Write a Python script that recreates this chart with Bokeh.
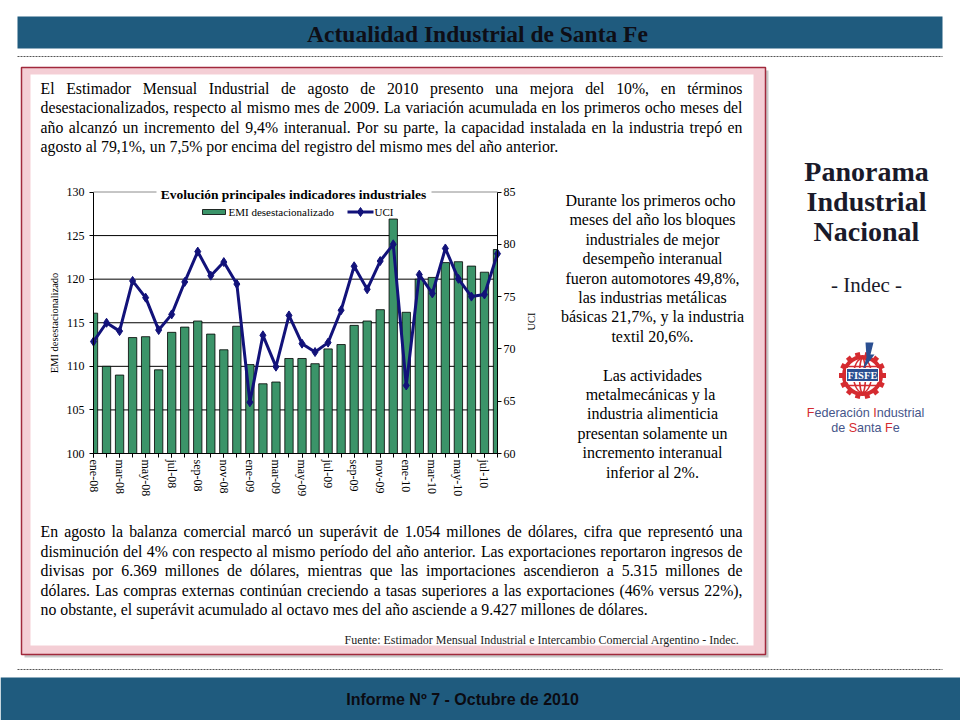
import numpy as np
from bokeh.plotting import figure
from bokeh.models import Range1d, LinearAxis, FixedTicker
from bokeh.core.properties import value
from bokeh.embed import file_html
from bokeh.resources import INLINE

# ---------------- data ----------------
months = ["ene-08", "feb-08", "mar-08", "abr-08", "may-08", "jun-08", "jul-08", "ago-08",
          "sep-08", "oct-08", "nov-08", "dic-08", "ene-09", "feb-09", "mar-09", "abr-09",
          "may-09", "jun-09", "jul-09", "ago-09", "sep-09", "oct-09", "nov-09", "dic-09",
          "ene-10", "feb-10", "mar-10", "abr-10", "may-10", "jun-10", "jul-10", "ago-10"]
emi = [116.1, 110.0, 109.0, 113.3, 113.4, 109.6, 113.9, 114.5, 115.2, 113.7, 111.9, 114.6,
       110.2, 108.0, 108.2, 110.9, 110.9, 110.3, 112.0, 112.5, 114.7, 115.2, 116.5, 126.9,
       116.2, 120.0, 120.2, 121.9, 122.0, 121.5, 120.8, 123.4]
uci = [70.7, 72.5, 71.7, 76.5, 74.9, 71.8, 73.3, 76.4, 79.3, 77.0, 78.3, 76.2,
       64.9, 71.3, 68.3, 73.2, 70.5, 69.7, 70.6, 73.7, 77.9, 75.7, 78.4, 80.0,
       66.5, 77.1, 75.3, 79.6, 76.7, 75.0, 75.2, 79.1]
emi_ticks = [100, 105, 110, 115, 120, 125, 130]
uci_ticks = [60, 65, 70, 75, 80, 85]
chart_title = "Evolución principales indicadores industriales"
emi_name = "EMI desestacionalizado"
uci_name = "UCI"

header_text = "Actualidad Industrial de Santa Fe"
footer_text = "Informe Nº 7 - Octubre de 2010"
side_title = ["Panorama", "Industrial", "Nacional"]
side_sub = "- Indec -"
para1 = ["El Estimador Mensual Industrial de agosto de 2010 presento una mejora del 10%, en términos",
         "desestacionalizados, respecto al mismo mes de 2009. La variación acumulada en los primeros ocho meses del",
         "año alcanzó un incremento del 9,4% interanual. Por su parte, la capacidad instalada en la industria trepó en",
         "agosto al 79,1%, un 7,5% por encima del registro del mismo mes del año anterior."]
para2 = ["En agosto la balanza comercial marcó un superávit de 1.054 millones de dólares, cifra que representó una",
         "disminución del 4% con respecto al mismo período del año anterior. Las exportaciones reportaron ingresos de",
         "divisas por 6.369 millones de dólares, mientras que las importaciones ascendieron a 5.315 millones de",
         "dólares. Las compras externas continúan creciendo a tasas superiores a las exportaciones (46% versus 22%),",
         "no obstante, el superávit acumulado al octavo mes del año asciende a 9.427 millones de dólares."]
source_text = "Fuente: Estimador Mensual Industrial  e Intercambio Comercial Argentino - Indec."
side_lines = ["Durante los primeros  ocho", "meses del año los bloques", "industriales de mejor",
              "desempeño interanual", "fueron automotores 49,8%,", "las industrias metálicas",
              "básicas 21,7%, y la industria", "textil 20,6%.", "",
              "Las actividades", "metalmecánicas  y la", "industria alimenticia",
              "presentan solamente un", "incremento interanual", "inferior al 2%."]

# ---------------- styles ----------------
WF, HF = 960, 720          # canvas size
OFF = 8                    # layout coordinates below are canvas px minus 8
SERIF = "Liberation Serif"
SANS = "Liberation Sans"
HEADER = "#1F5B7E"
GREEN = "#3B9469"
NAVY = "#12127A"
PINK = "#F4CED5"
RED_BORDER = "#A1293C"
LOGO_RED = "#D52B30"
LOGO_BLUE = "#2B4F91"
LOGO_TXT = "#46558A"

# Times / Arial advance widths (1/1000 em) for justification
TIMES_W = {' ': 250, '%': 833, '(': 333, ')': 333, ',': 250, '-': 333, '.': 250, ':': 278,
           'a': 444, 'b': 500, 'c': 444, 'd': 500, 'e': 444, 'f': 333, 'g': 500, 'h': 500, 'i': 278,
           'j': 278, 'k': 500, 'l': 278, 'm': 778, 'n': 500, 'o': 500, 'p': 500, 'q': 500, 'r': 333,
           's': 389, 't': 278, 'u': 500, 'v': 500, 'w': 722, 'x': 500, 'y': 500, 'z': 444,
           'A': 722, 'B': 667, 'C': 667, 'D': 722, 'E': 611, 'F': 556, 'G': 722, 'H': 722, 'I': 333,
           'J': 389, 'K': 722, 'L': 611, 'M': 889, 'N': 722, 'O': 722, 'P': 556, 'Q': 722, 'R': 667,
           'S': 556, 'T': 611, 'U': 722, 'V': 722, 'W': 944, 'X': 722, 'Y': 722, 'Z': 611,
           'á': 444, 'é': 444, 'í': 278, 'ó': 500, 'ú': 500, 'ñ': 500}
ARIAL_W = {' ': 278, 'F': 611, 'I': 278, 'S': 667, 'a': 556, 'c': 500, 'd': 556, 'e': 556, 'i': 222,
           'l': 222, 'n': 556, 'ó': 556, 'r': 333, 's': 500, 't': 278, 'u': 556}


def tw(s, size, table=TIMES_W):
    return sum(table.get(c, 500) for c in s) * size / 1000.0


p = figure(width=WF, height=HF, x_range=Range1d(-OFF, WF - OFF), y_range=Range1d(HF - OFF, -OFF),
           x_axis_type=None, y_axis_type=None, title=None, toolbar_location=None,
           output_backend="svg", min_border=0, outline_line_color=None,
           background_fill_color="white", border_fill_color="white")


def txt(x, y, s, size, font=SERIF, style="normal", color="black", align="left", baseline="middle", angle=0.0):
    p.text(x=[x], y=[y], text=[s], text_font=value(font), text_font_size=value(f"{size}px"),
           text_font_style=style, text_color=color, text_align=align, text_baseline=baseline, angle=angle)


# ---------------- slide decorations ----------------
p.quad(left=[9], right=[934], top=[8], bottom=[40], fill_color=HEADER, line_color=None)
txt(469, 25, header_text, 23.5, style="bold", color="#0E0E16", align="center")
p.segment(x0=[9, 9], x1=[934, 934], y0=[48, 661], y1=[48, 661], line_color="#555555",
          line_width=1, line_dash="2 1")
p.quad(left=[-OFF], right=[WF - OFF], top=[669], bottom=[HF - OFF], fill_color=HEADER, line_color=None)
txt(454, 691, footer_text, 16, font=SANS, style="bold", color="#0B0B12", align="center")

# pink frame
p.quad(left=[16], right=[760], top=[62], bottom=[649], fill_color="#888888", fill_alpha=0.45, line_color=None)
p.quad(left=[13], right=[757], top=[59], bottom=[646], fill_color=PINK, line_color=RED_BORDER, line_width=1.5)
p.quad(left=[22], right=[745], top=[66], bottom=[637], fill_color="white", line_color=None)


def draw_justified(lines, x0, x1, y0, dy, size):
    L = dict(x=[], y=[], t=[])
    R = dict(x=[], y=[], t=[])
    for k, line in enumerate(lines):
        y = y0 + k * dy
        if k == len(lines) - 1:
            L["x"].append(x0); L["y"].append(y); L["t"].append(line)
            continue
        words = line.split()
        widths = [tw(w, size) for w in words]
        gap = (x1 - x0 - sum(widths)) / (len(words) - 1)
        x = x0
        for w, wd in zip(words[:-1], widths[:-1]):
            L["x"].append(x); L["y"].append(y); L["t"].append(w)
            x += wd + gap
        R["x"].append(x1); R["y"].append(y); R["t"].append(words[-1])
    for d, al in ((L, "left"), (R, "right")):
        p.text(x=d["x"], y=d["y"], text=d["t"], text_font=value(SERIF),
               text_font_size=value(f"{size}px"), text_color="black",
               text_align=al, text_baseline="middle")


draw_justified(para1, 32, 734, 79.5, 19.6, 15.8)
draw_justified(para2, 32, 734, 523, 19.6, 15.8)
txt(734, 631, source_text, 12, color="#222222", align="right")

# side text block
for k, s in enumerate(side_lines):
    if s:
        txt(644, 192 + k * 19.4, s, 16, align="center")

# right panel title
for k, s in enumerate(side_title):
    txt(858, 163 + k * 30, s, 28, style="bold", color="#1A1A2A", align="center")
txt(858, 276, side_sub, 21, color="#1A1A2A", align="center")

# logo (FISFE)
GX, GY = 854, 367
ang = np.linspace(0, 2 * np.pi, 14, endpoint=False)
p.rect(x=GX + 21 * np.cos(ang), y=GY + 21 * np.sin(ang), width=5, height=5, angle=-ang,
       fill_color=LOGO_RED, line_color=None)
p.circle(x=[GX], y=[GY], radius=18.5, fill_color=None, line_color=LOGO_RED, line_width=4)
p.ellipse(x=[GX, GX], y=[GY, GY], width=[18, 6], height=[34, 34], fill_color=None,
          line_color=LOGO_RED, line_width=1.5)
p.segment(x0=[GX - 15, GX - 16], x1=[GX + 15, GX + 16], y0=[GY - 9, GY + 10], y1=[GY - 9, GY + 10],
          line_color=LOGO_RED, line_width=1.5)
p.patch(x=[857, 865, 862, 866, 854, 858], y=[334, 334, 346, 346, 362, 349], fill_color=LOGO_BLUE,
        line_color=None)
p.quad(left=[838], right=[870], top=[360], bottom=[373], fill_color=LOGO_BLUE, line_color="white",
       line_width=1)
txt(854, 367, "FISFE", 10.5, style="bold", color="white", align="center")


def multicolor(parts, cx, y, size):
    total = sum(tw(s, size, ARIAL_W) for s, _ in parts)
    x = cx - total / 2
    for s, c in parts:
        txt(x, y, s, size, font=SANS, color=c)
        x += tw(s, size, ARIAL_W)


multicolor([("F", LOGO_RED), ("ederación ", LOGO_TXT), ("I", LOGO_RED), ("ndustrial", LOGO_TXT)], 857, 404, 12.6)
multicolor([("de ", LOGO_TXT), ("S", LOGO_RED), ("anta ", LOGO_TXT), ("F", LOGO_RED), ("e", LOGO_TXT)], 857, 419, 12.6)

# ---------------- chart ----------------
n = len(months)
idx = np.arange(n)
CX0, CX1 = 85.0, 489.0           # layout x of first / last month
CYT, CYB = 183.5, 445.0           # layout y of axis top / bottom
kx = (CX1 - CX0) / (n - 1)
p.extra_x_ranges["idx"] = Range1d(-(CX0 + OFF) / kx, (n - 1) + (WF - CX1 - OFF) / kx)
e_lo, e_hi = emi_ticks[0], emi_ticks[-1]
ke = (CYB - CYT) / (e_hi - e_lo)
p.extra_y_ranges["emi"] = Range1d(e_lo - (HF - CYB - OFF) / ke, e_hi + (CYT + OFF) / ke)
u_lo, u_hi = uci_ticks[0], uci_ticks[-1]
ku = (CYB - CYT) / (u_hi - u_lo)
p.extra_y_ranges["uci"] = Range1d(u_lo - (HF - CYB - OFF) / ku, u_hi + (CYT + OFF) / ku)

# gridlines + top border
p.segment(x0=0, x1=n - 1, y0=emi_ticks[1:-1], y1=emi_ticks[1:-1], x_range_name="idx",
          y_range_name="emi", line_color="black", line_width=1)
p.segment(x0=0, x1=n - 1, y0=[e_hi], y1=[e_hi], x_range_name="idx", y_range_name="emi",
          line_color="#8C8C8C", line_width=1)

# bars (clipped to the axis span like the original plot area)
BW = 0.64
p.quad(left=np.clip(idx - BW / 2, 0, n - 1), right=np.clip(idx + BW / 2, 0, n - 1),
       bottom=e_lo, top=emi, x_range_name="idx", y_range_name="emi",
       fill_color=GREEN, line_color="black", line_width=0.8)

# UCI line
p.line(idx, uci, x_range_name="idx", y_range_name="uci", line_color=NAVY, line_width=3)
p.scatter(idx, uci, x_range_name="idx", y_range_name="uci", marker="diamond", size=9,
          fill_color=NAVY, line_color=NAVY)

axis_style = dict(axis_line_color="black", axis_line_width=1, major_tick_line_color="black",
                  major_tick_in=0, major_tick_out=4, minor_tick_line_color=None,
                  major_label_text_font=SERIF, major_label_text_font_size="12px",
                  major_label_text_color="black")

ax_l = LinearAxis(y_range_name="emi", fixed_location=CX0, bounds=(e_lo, e_hi),
                  ticker=FixedTicker(ticks=emi_ticks, minor_ticks=[]), major_label_standoff=5,
                  axis_label=emi_name, axis_label_text_font=SERIF, axis_label_text_font_style="normal",
                  axis_label_text_font_size="10.5px", axis_label_text_color="black",
                  axis_label_standoff=4, **axis_style)
p.add_layout(ax_l, "left")

ax_r = LinearAxis(y_range_name="uci", fixed_location=CX1, bounds=(u_lo, u_hi),
                  ticker=FixedTicker(ticks=uci_ticks, minor_ticks=[]), major_label_standoff=2,
                  **axis_style)
p.add_layout(ax_r, "right")

ax_b = LinearAxis(x_range_name="idx", fixed_location=CYB, bounds=(0, n - 1),
                  ticker=FixedTicker(ticks=list(range(0, n, 2)), minor_ticks=list(range(n))),
                  major_label_overrides={i: months[i] for i in range(0, n, 2)},
                  major_label_orientation="vertical", major_label_standoff=2,
                  axis_line_color="black", major_tick_line_color="black", major_tick_in=0,
                  major_tick_out=4, minor_tick_line_color="black", minor_tick_in=0, minor_tick_out=4,
                  major_label_text_font=SERIF, major_label_text_font_size="12px",
                  major_label_text_color="black")
p.add_layout(ax_b, "below")

# right axis title
txt(523, 313, uci_name, 10.5, align="center", angle=np.pi / 2)

# chart title (white backing over the top border)
p.quad(left=[148], right=[423], top=[178], bottom=[192], fill_color="white", line_color=None)
txt(285, 185.5, chart_title, 13.5, style="bold", align="center")

# legend
p.quad(left=[194], right=[217], top=[201], bottom=[206], fill_color=GREEN, line_color="black",
       line_width=0.8)
txt(220, 203.5, emi_name, 11)
p.segment(x0=[339], x1=[365], y0=[203.5], y1=[203.5], line_color=NAVY, line_width=3)
p.scatter(x=[352], y=[203.5], marker="diamond", size=9, fill_color=NAVY, line_color=NAVY)
txt(366, 203.5, uci_name, 11)

open("out.html", "w").write(file_html(p, INLINE))
